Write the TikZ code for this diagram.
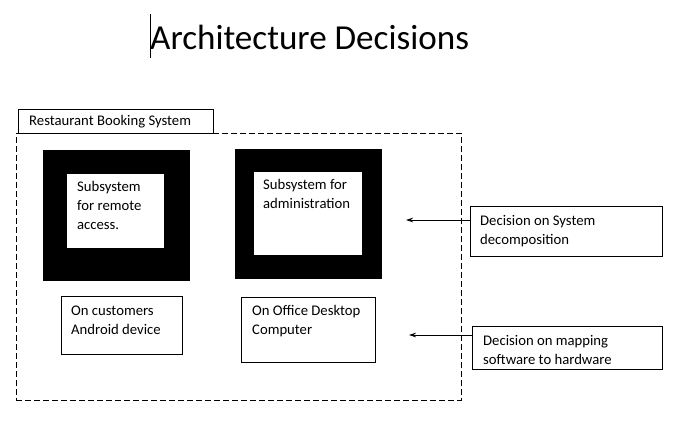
\documentclass[tikz,border=0pt]{standalone}
\usepackage{fontspec}
\setmainfont{Carlito}
\usetikzlibrary{arrows.meta}
\tikzset{
  box/.style={draw=black, line width=0.8pt, fill=white, inner sep=0pt, anchor=north west},
  blk/.style={fill=black, inner sep=0pt, anchor=north west},
  inner/.style={fill=white, inner sep=0pt, anchor=north west},
  txt/.style={anchor=north west, inner sep=0pt, align=left, font=\fontsize{14.7}{19}\selectfont},
  arr/.style={line width=0.7pt, -{Stealth[length=7pt,width=4.5pt]}}
}
\begin{document}
\begin{tikzpicture}[x=1pt,y=-1pt]
\useasboundingbox (0,0) rectangle (694,431);
% title
\node[anchor=west, inner sep=0pt, font=\fontsize{35.1}{40}\selectfont] (title) at (150,37) {Architecture Decisions};
\draw[line width=0.8pt] (150,14) -- (150,58);
% dashed system boundary
\node[draw=black, line width=0.8pt, dash pattern=on 6pt off 3pt, inner sep=0pt, anchor=north west, minimum width=445pt, minimum height=267pt] (sys) at (16,133) {};
% label box
\node[box, minimum width=195pt, minimum height=24pt] (lbl) at (18,109) {};
\node[txt] (lblt) at (29,115.5) {Restaurant Booking System};
% subsystem 1
\node[blk, minimum width=147pt, minimum height=131pt] (s1) at (43,150) {};
\node[inner, minimum width=97pt, minimum height=74pt] (s1i) at (67,174) {};
\node[txt] (s1t) at (77,181.5) {Subsystem\\for remote\\access.};
% subsystem 2
\node[blk, minimum width=147pt, minimum height=130pt] (s2) at (235,149) {};
\node[inner, minimum width=108pt, minimum height=83pt] (s2i) at (254,172) {};
\node[txt] (s2t) at (263,179.5) {Subsystem for\\administration};
% hardware boxes
\node[box, minimum width=121pt, minimum height=58pt] (h1) at (61,296) {};
\node[txt] (h1t) at (71,305.5) {On customers\\Android device};
\node[box, minimum width=134pt, minimum height=65pt] (h2) at (241,297) {};
\node[txt] (h2t) at (252,305.5) {On Office Desktop\\Computer};
% decision boxes
\node[box, minimum width=192pt, minimum height=50pt] (d1) at (470,206) {};
\node[txt] (d1t) at (480,215.5) {Decision on System\\decomposition};
\node[box, minimum width=190pt, minimum height=43pt] (d2) at (472,326) {};
\node[txt] (d2t) at (483,335.5) {Decision on mapping\\software to hardware};
% arrows
\coordinate (a1) at (406,220);
\coordinate (a2) at (409,335);
\draw[arr] (d1.west |- a1) -- (a1);
\draw[arr] (d2.west |- a2) -- (a2);
\end{tikzpicture}
\end{document}
